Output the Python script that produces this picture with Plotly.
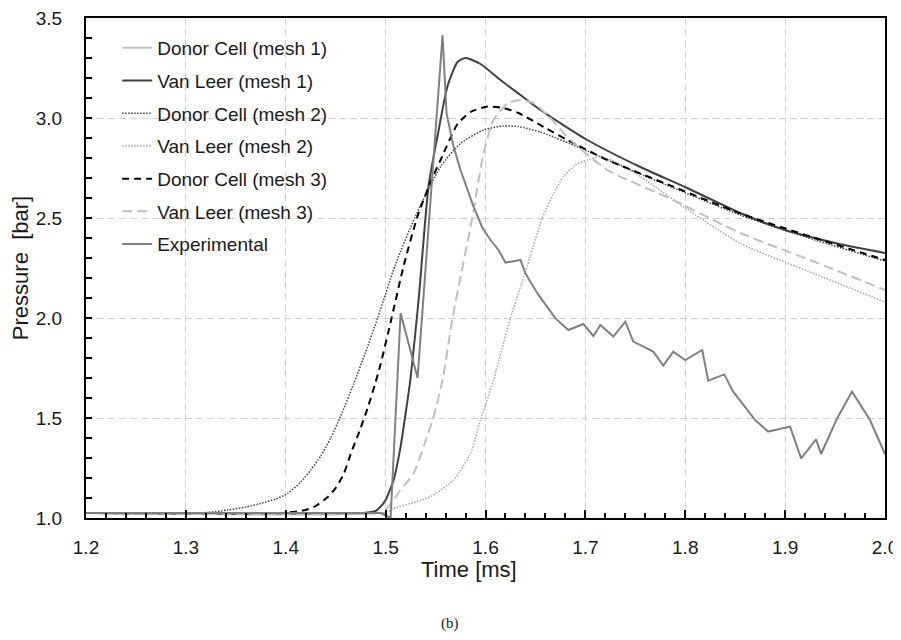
import plotly.graph_objects as go

# ---------------- data (time in ms, pressure in bar) ----------------
dc1_t = [1.20, 1.30, 1.40, 1.50]
dc1_p = [1.025, 1.025, 1.025, 1.025]

vl1_t = [1.20, 1.48, 1.49, 1.495, 1.50, 1.508, 1.515, 1.52, 1.525, 1.533, 1.543, 1.552,
         1.562, 1.572, 1.58, 1.595, 1.615, 1.635, 1.655, 1.702, 1.755, 1.802, 1.855,
         1.90, 1.95, 2.00]
vl1_p = [1.025, 1.026, 1.035, 1.057, 1.09, 1.19, 1.357, 1.523, 1.70, 2.09, 2.66, 2.91,
         3.16, 3.28, 3.30, 3.27, 3.19, 3.115, 3.04, 2.89, 2.755, 2.65, 2.525,
         2.44, 2.375, 2.325]

dc2_t = [1.20, 1.32, 1.342, 1.36, 1.375, 1.39, 1.402, 1.415, 1.425, 1.435, 1.445, 1.455,
         1.468, 1.48, 1.492, 1.51, 1.53, 1.555, 1.575, 1.598, 1.618, 1.633, 1.655, 1.695,
         1.755, 1.855, 1.93, 2.00]
dc2_p = [1.025, 1.027, 1.04, 1.055, 1.073, 1.095, 1.123, 1.18, 1.24, 1.31, 1.40, 1.51,
         1.67, 1.83, 2.0, 2.27, 2.51, 2.757, 2.873, 2.94, 2.96, 2.957, 2.93, 2.85,
         2.72, 2.515, 2.39, 2.285]

vl2_t = [1.20, 1.50, 1.508, 1.53, 1.545, 1.568, 1.585, 1.595, 1.608, 1.625, 1.64, 1.657,
         1.668, 1.678, 1.69, 1.702, 1.715, 1.73, 1.755, 1.808, 1.855, 1.93, 2.00]
vl2_p = [1.025, 1.027, 1.048, 1.08, 1.107, 1.19, 1.323, 1.49, 1.69, 2.0, 2.23, 2.5,
         2.62, 2.707, 2.765, 2.79, 2.807, 2.78, 2.707, 2.523, 2.373, 2.22, 2.08]

dc3_t = [1.20, 1.40, 1.42, 1.43, 1.442, 1.45, 1.458, 1.465, 1.475, 1.482, 1.49, 1.495,
         1.506, 1.518, 1.532, 1.545, 1.555, 1.572, 1.585, 1.602, 1.618, 1.633, 1.66,
         1.682, 1.722, 1.788, 1.855, 1.93, 2.00]
dc3_p = [1.025, 1.027, 1.04, 1.06, 1.105, 1.15, 1.22, 1.32, 1.45, 1.55, 1.68, 1.77,
         2.0, 2.26, 2.51, 2.68, 2.79, 2.97, 3.03, 3.057, 3.05, 3.025, 2.95,
         2.89, 2.79, 2.657, 2.523, 2.40, 2.29]

vl3_t = [1.20, 1.495, 1.50, 1.515, 1.528, 1.538, 1.548, 1.557, 1.567, 1.587, 1.598, 1.608,
         1.622, 1.635, 1.648, 1.665, 1.682, 1.722, 1.788, 1.855, 1.93, 2.00]
vl3_p = [1.025, 1.027, 1.04, 1.14, 1.223, 1.357, 1.507, 1.69, 2.0, 2.507, 2.823, 2.99,
         3.073, 3.09, 3.075, 3.0, 2.905, 2.74, 2.59, 2.425, 2.28, 2.14]

exp_t = [1.20, 1.495, 1.505, 1.515, 1.532, 1.557, 1.561, 1.568, 1.575, 1.582, 1.588,
         1.597, 1.605, 1.613, 1.62, 1.635, 1.64, 1.652, 1.662, 1.67, 1.683, 1.698, 1.708,
         1.715, 1.728, 1.74, 1.748, 1.768, 1.778, 1.788, 1.80, 1.817, 1.823, 1.839, 1.848,
         1.87, 1.883, 1.905, 1.916, 1.931, 1.936, 1.952, 1.967, 1.985, 2.00]
exp_p = [1.025, 1.025, 1.0, 2.025, 1.70, 3.415, 3.023, 2.857, 2.74, 2.64, 2.557,
         2.45, 2.39, 2.34, 2.277, 2.29, 2.223, 2.123, 2.057, 1.998, 1.94, 1.97, 1.91,
         1.965, 1.907, 1.982, 1.882, 1.832, 1.762, 1.832, 1.79, 1.84, 1.687, 1.718, 1.632,
         1.49, 1.432, 1.457, 1.298, 1.393, 1.32, 1.498, 1.632, 1.49, 1.32]

names = ["Donor Cell (mesh 1)", "Van Leer (mesh 1)", "Donor Cell (mesh 2)",
         "Van Leer (mesh 2)", "Donor Cell (mesh 3)", "Van Leer (mesh 3)", "Experimental"]

FONT = "Liberation Sans, Arial, sans-serif"
TXT = "#1a1a1a"

series = [
    (dc1_t, dc1_p, dict(color="#bfbfbf", width=2, dash="solid"), "linear"),
    (vl1_t, vl1_p, dict(color="#404040", width=2, dash="solid"), "spline"),
    (dc2_t, dc2_p, dict(color="#404040", width=1.5, dash="1.5px,1.5px"), "spline"),
    (vl2_t, vl2_p, dict(color="#a6a6a6", width=1.5, dash="1.5px,1.5px"), "spline"),
    (dc3_t, dc3_p, dict(color="#000000", width=2, dash="7px,5px"), "spline"),
    (vl3_t, vl3_p, dict(color="#bfbfbf", width=2, dash="10px,5px"), "spline"),
    (exp_t, exp_p, dict(color="#808080", width=2, dash="solid"), "linear"),
]

fig = go.Figure()
for i, (t, p, ln, shape) in enumerate(series):
    ln = dict(ln, shape=shape)
    if shape == "spline":
        ln["smoothing"] = 0.6
    fig.add_trace(go.Scatter(x=t, y=p, mode="lines", name=names[i], line=ln,
                             legendgroup=f"g{i}"))

# the page body adds an 8px margin, so the figure is sized to fit the window exactly
fig.update_layout(
    width=893, height=624,
    margin=dict(l=78, r=16, t=10, b=114),
    paper_bgcolor="white", plot_bgcolor="white",
    font=dict(family=FONT, color=TXT, size=19),
    showlegend=True,
    legend=dict(x=0.039, y=0.978, xanchor="left", yanchor="top",
                bgcolor="rgba(0,0,0,0)", font=dict(size=19, family=FONT, color=TXT),
                tracegroupgap=5, itemwidth=30),
    xaxis=dict(range=[1.2, 2.0], dtick=0.1, tick0=1.2, tickformat=".1f",
               automargin=False, ticklabeloverflow="allow",
               showline=True, linecolor="black", linewidth=2, mirror=True,
               ticks="inside", ticklen=8, tickwidth=1.5, tickcolor="black",
               showgrid=True, gridcolor="#d0d0d0", gridwidth=1, griddash="7px,4px",
               zeroline=False, ticklabelstandoff=11,
               tickfont=dict(size=19, family=FONT, color=TXT),
               minor=dict(dtick=0.02, ticks="inside", ticklen=5, tickwidth=1.5,
                          tickcolor="black", showgrid=False)),
    yaxis=dict(range=[1.0, 3.5], dtick=0.5, tick0=1.0, tickformat=".1f",
               automargin=False, ticklabeloverflow="allow",
               showline=True, linecolor="black", linewidth=2, mirror=True,
               ticks="inside", ticklen=6, tickwidth=1.5, tickcolor="black",
               showgrid=True, gridcolor="#d0d0d0", gridwidth=1, griddash="7px,4px",
               zeroline=False, ticklabelstandoff=18,
               tickfont=dict(size=19, family=FONT, color=TXT),
               title=dict(text="Pressure\u00a0 [bar]", font=dict(size=22, family=FONT, color=TXT),
                          standoff=1),
               minor=dict(dtick=0.1, ticks="inside", ticklen=6, tickwidth=1.5,
                          tickcolor="black", showgrid=False)),
    annotations=[
        dict(text="Time [ms]", x=0.479, y=-0.103, xref="paper", yref="paper",
             xanchor="center", yanchor="middle", showarrow=False,
             font=dict(size=22, family=FONT, color=TXT)),
        dict(text="(b)", x=0.4556, y=-0.21, xref="paper", yref="paper",
             xanchor="center", yanchor="middle", showarrow=False,
             font=dict(size=15, family="Liberation Serif, Times New Roman, serif", color=TXT)),
    ],
)

fig.write_html(
    "out.html",
    post_script="document.documentElement.style.overflow='hidden';"
                "document.body.style.overflow='hidden';",
)
